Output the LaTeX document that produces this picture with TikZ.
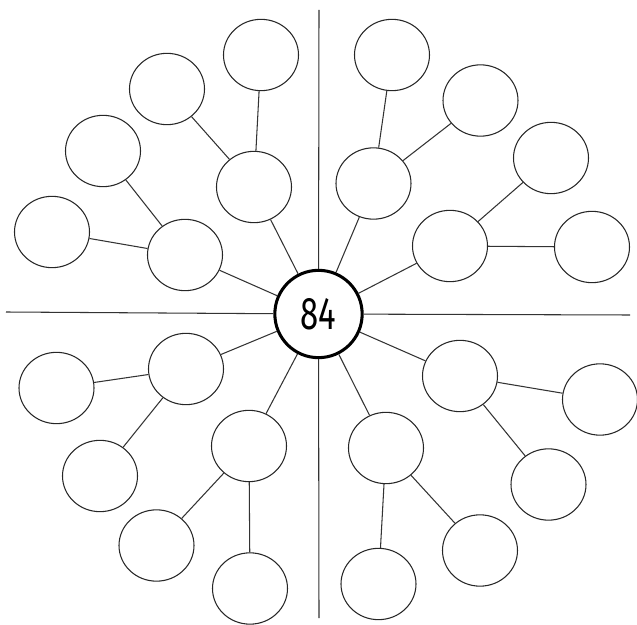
\documentclass[tikz,border=0pt]{standalone}
\usepackage{fontspec}
\setmainfont{Fira Sans}
\usepackage{tikz}
\usetikzlibrary{shapes.geometric}

\begin{document}
\begin{tikzpicture}[x=0.03cm,y=-0.03cm,
  bubble/.style={ellipse,draw=black!85,fill=white,line width=0.9pt,minimum width=2.25cm,minimum height=2.14cm,inner sep=0pt},
  hub/.style={circle,draw=black,fill=white,line width=2.6pt,minimum size=2.62cm,inner sep=0pt,font=\fontsize{39}{39}\selectfont},
  link/.style={draw=black!80,line width=0.9pt}]
\useasboundingbox (0,0) rectangle (637,625);
% axes
\coordinate (axN) at (319,10);
\coordinate (axS) at (319,618);
\coordinate (axW) at (6,312);
\coordinate (axE) at (630,315);
\node[hub] (ctr) at (318.5,314) {\scalebox{0.72}[1]{84}};
\draw[link] (axN) -- (ctr);
\draw[link] (ctr) -- (axS);
\draw[link] (axW) -- (ctr);
\draw[link] (ctr) -- (axE);
% upper left
\node[bubble] (ulA) at (185,255) {};
\node[bubble] (ulB) at (254,187) {};
\node[bubble] (ulA1) at (52,232) {};
\node[bubble] (ulA2) at (103,151) {};
\node[bubble] (ulB1) at (167,89) {};
\node[bubble] (ulB2) at (261,55) {};
% upper right
\node[bubble] (urA) at (373.5,183.5) {};
\node[bubble] (urB) at (450,246) {};
\node[bubble] (urA1) at (392,55) {};
\node[bubble] (urA2) at (480.5,100.5) {};
\node[bubble] (urB1) at (551,158) {};
\node[bubble] (urB2) at (592,247) {};
% lower left
\node[bubble] (llA) at (186,369) {};
\node[bubble] (llB) at (249,446) {};
\node[bubble] (llA1) at (56.5,388) {};
\node[bubble] (llA2) at (100,476) {};
\node[bubble] (llB1) at (156.5,545.5) {};
\node[bubble] (llB2) at (250,588.5) {};
% lower right
\node[bubble] (lrA) at (460,376) {};
\node[bubble] (lrB) at (386,448) {};
\node[bubble] (lrA1) at (600,399.5) {};
\node[bubble] (lrA2) at (548.5,484.5) {};
\node[bubble] (lrB1) at (480,550.5) {};
\node[bubble] (lrB2) at (378.5,584) {};
% spokes
\foreach \q in {ul,ur,ll,lr}{
  \draw[link] (ctr) -- (\q A);
  \draw[link] (ctr) -- (\q B);
  \draw[link] (\q A) -- (\q A1);
  \draw[link] (\q A) -- (\q A2);
  \draw[link] (\q B) -- (\q B1);
  \draw[link] (\q B) -- (\q B2);
}
\end{tikzpicture}
\end{document}
